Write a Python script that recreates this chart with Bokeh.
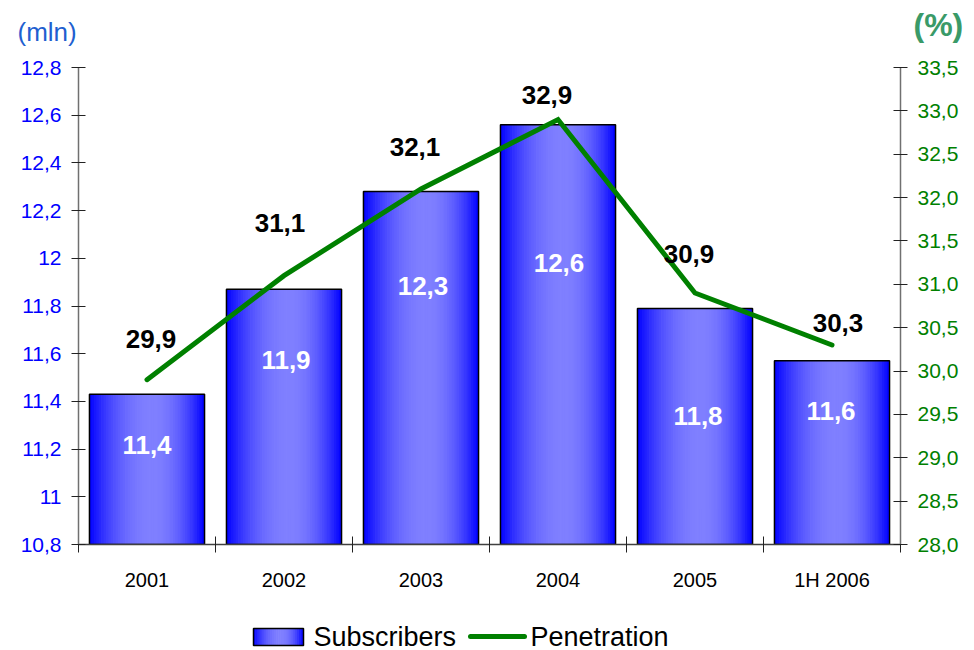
import numpy as np
from bokeh.plotting import figure
from bokeh.models import (Range1d, LinearAxis, FixedTicker, ColumnDataSource,
                          CustomJSTickFormatter)
from bokeh.core.properties import value
from bokeh.embed import file_html
from bokeh.resources import INLINE

# ---- data -------------------------------------------------------------
periods = ["2001", "2002", "2003", "2004", "2005", "1H 2006"]
subscribers_mln = [11.43, 11.87, 12.28, 12.56, 11.79, 11.57]
penetration_pct = [29.9, 31.1, 32.1, 32.9, 30.9, 30.3]

left_ticks = [10.8, 11.0, 11.2, 11.4, 11.6, 11.8, 12.0, 12.2, 12.4, 12.6, 12.8]
right_ticks = [28.0, 28.5, 29.0, 29.5, 30.0, 30.5, 31.0, 31.5, 32.0, 32.5, 33.0, 33.5]

series_names = ["Subscribers", "Penetration"]

# ---- label placement (screen px) --------------------------------------
pct_dx = [4, -4, -6, -11, -6, 6]
pct_dy = [41, 53, 42, 25, 39, 22]
inner_dx = [0, 2, 2, 1, 3, -1]
inner_dy = [51, 71, 94, 138, 108, 50]

FONT = "Liberation Sans"
BAR_W = 0.84
GREEN = "#008000"
W = 974
HEADER_H, MAIN_H, FOOTER_H = 50, 550, 50


def comma(v):
    return f"{v:.1f}".replace(".", ",")


def gradient_colors(n):
    """Blue -> light blue -> blue, brightest a little right of centre."""
    u = (np.arange(n) + 0.5) / n
    peak = 0.55
    t = np.where(u < peak, 1 - ((u - peak) / peak) ** 2,
                 1 - ((u - peak) / (1 - peak)) ** 2)
    t = np.clip(t, 0, 1)
    return u, ["#%02x%02xff" % (int(128 * a), int(128 * a)) for a in t]


def blank(height):
    """A strip whose data coordinates are its own pixels (y up)."""
    f = figure(width=W, height=height, x_range=Range1d(0, W), y_range=Range1d(0, height),
               x_axis_type=None, y_axis_type=None, output_backend="svg",
               toolbar_location=None, min_border=0)
    f.outline_line_color = None
    return f


idx = list(range(len(periods)))

# ---- header: unit captions --------------------------------------------
header = blank(HEADER_H)
header.text(x=[17], y=[HEADER_H - 31], text=["(mln)"], text_baseline="middle",
            text_align="left", text_font=value(FONT), text_font_size="26px",
            text_color="#1f5fd0")
header.text(x=[913], y=[HEADER_H - 24], text=["(%)"], text_baseline="middle",
            text_align="left", text_font=value(FONT), text_font_style="bold",
            text_font_size="32px", text_color="#3a9a68")

# ---- main chart -------------------------------------------------------
p = figure(width=W, height=MAIN_H,
           x_range=Range1d(-0.5, len(periods) - 0.5),
           y_range=Range1d(left_ticks[0], left_ticks[-1]),
           x_axis_type=None, y_axis_type=None,
           output_backend="svg", toolbar_location=None,
           min_border_left=78, min_border_right=74,
           min_border_top=17, min_border_bottom=56)
p.outline_line_color = None
p.extra_y_ranges = {"pen": Range1d(right_ticks[0], right_ticks[-1])}

xaxis = LinearAxis(
    ticker=FixedTicker(ticks=idx, minor_ticks=[i - 0.5 for i in range(len(periods) + 1)]),
    formatter=CustomJSTickFormatter(args=dict(labels=periods),
                                    code="return labels[Math.round(tick)]"),
    major_tick_in=0, major_tick_out=0,
    minor_tick_in=8, minor_tick_out=8, minor_tick_line_color="#222222",
    axis_line_color="#404040", axis_line_width=1.5,
    major_label_standoff=16,
    major_label_text_font=FONT, major_label_text_font_size="20px",
    major_label_text_color="black")
p.add_layout(xaxis, "below")

yaxis = LinearAxis(
    ticker=FixedTicker(ticks=left_ticks, minor_ticks=[]),
    formatter=CustomJSTickFormatter(
        code="return tick.toFixed(1).replace(/\\.0$/, '').replace('.', ',')"),
    major_tick_in=7, major_tick_out=7, major_tick_line_color="#222222",
    minor_tick_in=0, minor_tick_out=0,
    axis_line_color="#707070", axis_line_width=1.5,
    major_label_standoff=10,
    major_label_text_font=FONT, major_label_text_font_size="21px",
    major_label_text_color="#0000ff")
p.add_layout(yaxis, "left")

raxis = LinearAxis(
    y_range_name="pen",
    ticker=FixedTicker(ticks=right_ticks, minor_ticks=[]),
    formatter=CustomJSTickFormatter(code="return tick.toFixed(1).replace('.', ',')"),
    major_tick_in=7, major_tick_out=7, major_tick_line_color="#222222",
    minor_tick_in=0, minor_tick_out=0,
    axis_line_color="#707070", axis_line_width=1.5,
    major_label_standoff=10,
    major_label_text_font=FONT, major_label_text_font_size="21px",
    major_label_text_color=GREEN)
p.add_layout(raxis, "right")

# bars: horizontal gradient made of thin vertical strips, then an outline
N = 48
u, strip_colors = gradient_colors(N)
sx, stop, scol = [], [], []
for i, v in zip(idx, subscribers_mln):
    for k in range(N):
        sx.append(i - BAR_W / 2 + u[k] * BAR_W)
        stop.append(v)
        scol.append(strip_colors[k])
strips = ColumnDataSource(dict(x=sx, top=stop, color=scol))
p.vbar(x="x", top="top", bottom=left_ticks[0], width=BAR_W / N * 1.3,
       fill_color="color", line_color=None, source=strips)
p.vbar(x=idx, top=subscribers_mln, bottom=left_ticks[0], width=BAR_W,
       fill_color=None, line_color="black", line_width=1.5)

# penetration line
p.line(x=idx, y=penetration_pct, y_range_name="pen",
       line_color=GREEN, line_width=5, line_cap="round", line_join="miter")

# value labels
p.text(x=idx, y=penetration_pct, y_range_name="pen",
       text=[comma(v) for v in penetration_pct],
       x_offset=pct_dx, y_offset=[-d for d in pct_dy],
       text_align="center", text_baseline="middle",
       text_font=value(FONT), text_font_style="bold",
       text_font_size="26px", text_color="black")
p.text(x=idx, y=subscribers_mln,
       text=[comma(v) for v in subscribers_mln],
       x_offset=inner_dx, y_offset=inner_dy,
       text_align="center", text_baseline="middle",
       text_font=value(FONT), text_font_style="bold",
       text_font_size="26px", text_color="white")

# ---- footer: legend ---------------------------------------------------
footer = blank(FOOTER_H)
NS = 24
us, sw_colors = gradient_colors(NS)
sw_left, sw_w = 253, 50
footer.vbar(x=[sw_left + a * sw_w for a in us], top=22, bottom=5,
            width=sw_w / NS * 1.3, fill_color=sw_colors, line_color=None)
footer.quad(left=[sw_left], right=[sw_left + sw_w], bottom=[5], top=[22],
            fill_color=None, line_color="black", line_width=1.5)
footer.text(x=[313], y=[14], text=[series_names[0]], text_baseline="middle",
            text_align="left", text_font=value(FONT), text_font_size="27px",
            text_color="black")
footer.line(x=[470, 524], y=[14, 14], line_color=GREEN, line_width=5,
            line_cap="round")
footer.text(x=[530], y=[14], text=[series_names[1]], text_baseline="middle",
            text_align="left", text_font=value(FONT), text_font_size="27px",
            text_color="black")

# three independent roots stacked on the page (keeps each strip's frame
# spanning its full width)
open("out.html", "w").write(file_html([header, p, footer], INLINE))
